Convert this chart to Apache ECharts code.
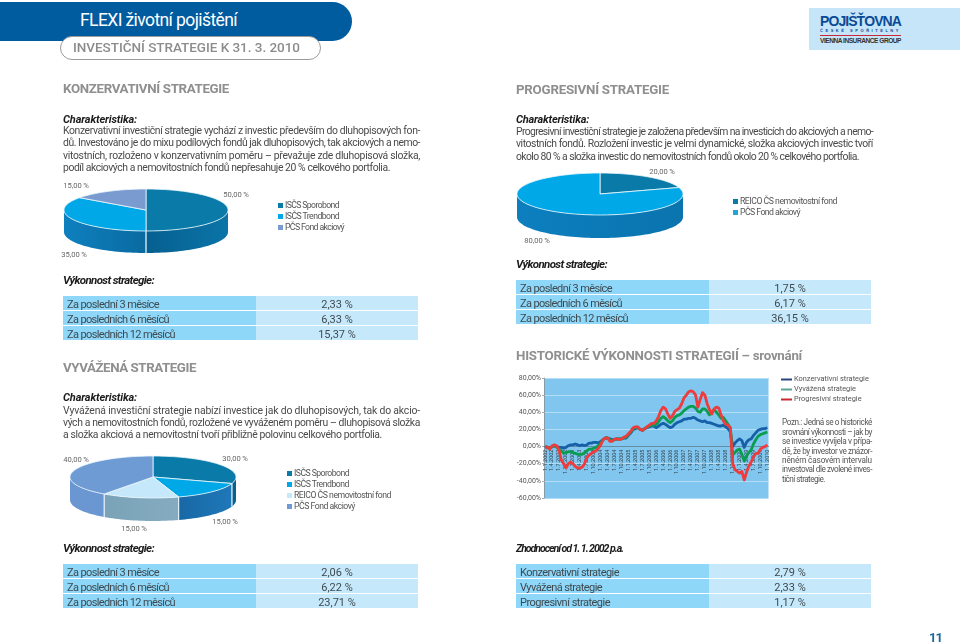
<!DOCTYPE html>
<html lang="cs"><head><meta charset="utf-8"><title>FLEXI životní pojištění</title>
<script src="https://cdn.jsdelivr.net/npm/echarts@6/dist/echarts.min.js"></script>
<style>
html,body{margin:0;padding:0;background:#fff}
#page{position:relative;width:960px;height:644px;overflow:hidden;font-family:Roboto,sans-serif;color:#454545}
#chart{position:absolute;left:0;top:0;width:960px;height:644px}
.t{position:absolute;white-space:nowrap;transform:translateY(-50%);line-height:1}
.b{position:absolute}
</style></head><body>
<div id="page"><div id="chart"></div></div>
<script>
// ---------- data ----------
const conservativeSlices = [50, 35, 15];
const conservativeNames = ['ISČS Sporobond', 'ISČS Trendbond', 'PČS Fond akciový'];
const progressiveSlices = [20, 80];
const progressiveNames = ['REICO ČS nemovitostní fond', 'PČS Fond akciový'];
const balancedSlices = [30, 15, 15, 40];
const balancedNames = ['ISČS Sporobond', 'ISČS Trendbond', 'REICO ČS nemovitostní fond', 'PČS Fond akciový'];

const histYears = [2002, 2003, 2004, 2005, 2006, 2007, 2008, 2009];
const histMonths = [1, 2, 3, 4, 5, 6, 7, 8, 9, 10, 11, 12];
const konzervativni = [
  0,-1,-2,0,1,0,-1,-1,-2,-1,1,2,
  2,3,2,1,2,1,2,4,4,5,5,4,
  6,8,10,10,9,8,8,9,9,9,10,10,
  13,16,20,21,22,20,19,21,22,23,24,24,
  22,24,26,27,26,24,22,23,26,28,29,30,
  32,32,33,33,34,33,31,30,29,30,28,28,
  27,26,25,24,24,25,23,21,17,0,4,7,
  9,7,-1,5,8,9,13,16,19,20,21,21,
  22];
const vyvazena = [
  0,-1,-2,0,1,-1,-3,-5,-8,-7,-6,-6,
  -7,-8,-9,-9,-9,-7,-5,-3,-3,-2,-1,1,
  4,8,10,10,8,7,8,9,9,9,10,11,
  14,17,21,22,23,20,19,21,23,24,25,25,
  26,29,33,35,33,30,28,30,34,36,37,39,
  42,44,46,47,47,45,41,40,44,44,41,37,
  40,43,40,37,33,34,30,26,22,-10,-7,-4,
  -3,-9,-17,-11,-7,-4,3,8,12,14,15,16,
  17];
const progresivni = [
  0,-1,-3,1,2,1,-4,-16,-20,-25,-20,-18,
  -20,-23,-25,-25,-24,-20,-13,-10,-8,-6,-5,-2,
  2,8,10,10,6,6,9,9,8,9,11,12,
  15,18,22,23,23,20,19,21,23,25,27,27,
  30,35,42,46,44,38,33,36,41,43,45,50,
  57,60,64,65,64,60,46,55,63,60,50,43,
  38,44,46,45,37,30,26,25,22,-19,-27,-29,
  -31,-29,-39,-30,-23,-18,-12,-8,-8,-3,-1,0,
  2];
const histCategories = [];
histYears.forEach(y => histMonths.forEach(m => histCategories.push('1.' + m + '.' + y)));
histCategories.push('1.1.2010');
const histNames = ['Konzervativní strategie', 'Vyvážená strategie', 'Progresivní strategie'];

const perfLabels = ['Za poslední 3 měsíce', 'Za posledních 6 měsíců', 'Za posledních 12 měsíců'];
const perfConservative = ['2,33 %', '6,33 %', '15,37 %'];
const perfProgressive = ['1,75 %', '6,17 %', '36,15 %'];
const perfBalanced = ['2,06 %', '6,22 %', '23,71 %'];
const perfSince2002 = ['2,79 %', '2,33 %', '1,17 %'];

// ---------- page text helpers ----------
const page = document.getElementById('page');
function T(text, x, y, w, css) {
  const d = document.createElement('div');
  d.className = 't'; d.textContent = text;
  d.style.cssText = 'left:' + x + 'px;top:' + y + 'px;' + (css || '');
  page.appendChild(d);
  if (w) {
    const n = d.getBoundingClientRect().width;
    const cur = parseFloat(getComputedStyle(d).letterSpacing) || 0;
    d.style.letterSpacing = (cur + (w - n) / text.length) + 'px';
  }
  return d;
}
function J(text, x, y, w, css) {   // justified prose line
  const d = T(text, x, y, 0, 'letter-spacing:-.12px;' + (css || ''));
  const n = d.getBoundingClientRect().width;
  if (n > w) d.style.letterSpacing = (-.12 + (w - n) / text.length) + 'px';
  else { d.style.width = w + 'px'; d.style.whiteSpace = 'normal'; d.style.textAlignLast = 'justify'; }
}
function B(x, y, w, h, css) {
  const d = document.createElement('div');
  d.className = 'b';
  d.style.cssText = 'left:' + x + 'px;top:' + y + 'px;width:' + w + 'px;height:' + h + 'px;' + (css || '');
  page.appendChild(d);
}
const HEAD = 'font-weight:700;font-size:13.3px;color:#8f8f8f;';
const SUB = 'font-weight:700;font-style:italic;font-size:11px;color:#1c1c1c;';
const PROSE = 'font-size:10.4px;color:#4a4a4a;';

// banner
B(0, 2, 352, 39, 'background:#005b9f;border-radius:0 20px 20px 0');
B(60, 36, 259, 22, 'background:#fff;border:1px solid #9a9a9a;border-radius:12px');
T('FLEXI životní pojištění', 80, 21, 157, 'font-size:17.5px;color:#fff');
T('INVESTIČNÍ STRATEGIE K 31. 3. 2010', 73, 48, 227, 'font-size:13.5px;font-weight:500;color:#8c8c8c');
// logo
B(809, 8, 151, 42, 'background:#c6e5f8');
T('POJIŠŤOVNA', 820, 21, 81, 'font-family:"Liberation Sans";font-weight:700;font-size:14px;color:#0b4a96');
T('ČESKÉ SPOŘITELNY', 820, 30.5, 81, 'font-family:"Liberation Sans";font-weight:700;font-size:4px;color:#0b4a96');
B(820, 34.5, 81, 1, 'background:#c8283a');
T('VIENNA INSURANCE GROUP', 820, 41, 81, 'font-family:"Liberation Sans";font-weight:700;font-size:6.6px;font-variant:small-caps;color:#333');

// left column
T('KONZERVATIVNÍ STRATEGIE', 63, 89, 166, HEAD);
T('Charakteristika:', 63, 118.5, 74, SUB);
[['Konzervativní investiční strategie vychází z investic především do dluhopisových fon-', 131],
 ['dů. Investováno je do mixu podílových fondů jak dluhopisových, tak akciových a nemo-', 143],
 ['vitostních, rozloženo v konzervativním poměru – převažuje zde dluhopisová složka,', 155.5]]
 .forEach(l => J(l[0], 63, l[1], 357, PROSE));
T('podíl akciových a nemovitostních fondů nepřesahuje 20 % celkového portfolia.', 63, 168, 327, PROSE);

T('VYVÁŽENÁ STRATEGIE', 63, 368, 133, HEAD);
T('Charakteristika:', 63, 397, 74, SUB);
[['Vyvážená investiční strategie nabízí investice jak do dluhopisových, tak do akcio-', 410.5],
 ['vých a nemovitostních fondů, rozložené ve vyváženém poměru – dluhopisová složka', 422.5]]
 .forEach(l => J(l[0], 63, l[1], 357, PROSE));
T('a složka akciová a nemovitostní tvoří přibližně polovinu celkového portfolia.', 63, 435, 319, PROSE);

// right column
T('PROGRESIVNÍ STRATEGIE', 516, 89.5, 153, HEAD);
T('Charakteristika:', 516, 119, 73, SUB);
[['Progresivní investiční strategie je založena především na investicích do akciových a nemo-', 132],
 ['vitostních fondů. Rozložení investic je velmi dynamické, složka akciových investic tvoří', 144]]
 .forEach(l => J(l[0], 516, l[1], 357, PROSE));
T('okolo 80 % a složka investic do nemovitostních fondů okolo 20 % celkového portfolia.', 516, 156.5, 343, PROSE);
T('HISTORICKÉ VÝKONNOSTI STRATEGIÍ – srovnání', 516, 356, 286, HEAD);

// note under chart legend
const NOTE = 'font-size:8.2px;color:#555;';
[['Pozn.: Jedná se o historické', 422], ['srovnání výkonnosti – jak by', 431.5], ['se investice vyvíjela v přípa-', 441],
 ['dě, že by investor ve znázor-', 450.5], ['něném časovém intervalu', 460], ['investoval dle zvolené inves-', 469]]
 .forEach(l => J(l[0], 782, l[1], 90, NOTE));
T('tiční strategie.', 782, 478.5, 43, NOTE);

// performance tables
function table(x, y, labels, values, widths, heading, headW, headY, headSize) {
  T(heading, x, headY, headW, SUB.replace('11px', (headSize || 11.5) + 'px'));
  labels.forEach((lab, i) => {
    const top = y + i * 15;
    B(x, top, 193, 14, 'background:#8ed7f8');
    B(x + 193, top, 162, 14, 'background:#c6e8fb');
    T(lab, x + 4, top + 7.5, widths[i], 'font-size:11px;color:#3f4a50');
    const v = T(values[i], x + 274, top + 7.5, 0, 'font-size:11px;color:#3f4a50');
    v.style.transform = 'translate(-50%,-50%)';
  });
}
const perfW = [92, 102, 108];
table(63, 296, perfLabels, perfConservative, perfW, 'Výkonnost strategie:', 91, 281);
table(516, 280, perfLabels, perfProgressive, perfW, 'Výkonnost strategie:', 91, 265);
table(63, 564, perfLabels, perfBalanced, perfW, 'Výkonnost strategie:', 91, 549);
table(516, 564, ['Konzervativní strategie', 'Vyvážená strategie', 'Progresivní strategie'], perfSince2002, [99, 82, 90], 'Zhodnocení od 1. 1. 2002 p.a.', 107, 549, 10.6);
T('11', 929, 637, 13, 'font-size:13px;font-weight:700;color:#1d6a9c');

// ---------- pies ----------
const DEEP = '#0a7ba8', CYAN = '#00a8e8', PERI = '#7a9bd0', PALE = '#c6e8fb', STEEL = '#6f9bd5';
const pies = [
  { values: conservativeSlices, names: conservativeNames, cx: 146, cy: 210, rx: 82, ry: 21, depth: 22,
    top: [DEEP, CYAN, PERI], side: [['#0b74a8', '#05608f'], ['#0a6aa0', '#0e80bf'], ['#6f9bd5', '#6f9bd5']],
    legendX: 278, legendY: [205, 216, 227], legendW: [54, 54, 59],
    labels: [[236, 195], [74, 255], [76, 186]] },
  { values: progressiveSlices, names: progressiveNames, cx: 600, cy: 194, rx: 83, ry: 21, depth: 23,
    top: [DEEP, CYAN], side: [['#0a6aa0', '#0a6aa0'], ['#0a74ae', '#0d7fbf']],
    legendX: 733, legendY: [201, 212], legendW: [97, 60], swatch: [DEEP, '#1ea5d9'],
    labels: [[662, 172], [537, 241]] },
  { values: balancedSlices, names: balancedNames, cx: 153, cy: 477, rx: 83, ry: 21, depth: 23,
    top: [DEEP, CYAN, PALE, STEEL], side: [['#06618f', '#06618f'], ['#1f78b8', '#1868a5'], ['#85abc0', '#7aa3b8'], ['#6a97d2', '#6a97d2']],
    legendX: 287, legendY: [473, 484, 495, 506], legendW: [55, 55, 97, 61],
    labels: [[235, 459], [225, 522], [134, 529], [76, 460]] }
];
const fmtPct = v => v.toFixed(2).replace('.', ',') + '\u2009%';
const pt = (p, a, dy) => [p.cx + p.rx * Math.sin(a), p.cy - p.ry * Math.cos(a) + (dy || 0)];
function arcPts(p, a0, a1, dy) {
  const n = Math.max(2, Math.ceil((a1 - a0) / 0.04)), out = [];
  for (let i = 0; i <= n; i++) out.push(pt(p, a0 + (a1 - a0) * i / n, dy));
  return out;
}
function renderSlice(p) {
  return function (params, api) {
    const total = p.values.reduce((s, v) => s + v, 0);
    const before = p.values.slice(0, params.dataIndex).reduce((s, v) => s + v, 0);
    const a0 = before / total * 2 * Math.PI, a1 = a0 + api.value(0) / total * 2 * Math.PI;
    const kids = [];
    const s0 = Math.max(a0, Math.PI / 2), s1 = Math.min(a1, 3 * Math.PI / 2);
    if (s1 > s0) {
      const c = p.side[params.dataIndex];
      const up = arcPts(p, s0, s1), down = arcPts(p, s0, s1, p.depth).reverse();
      kids.push({ type: 'polygon', z2: 1, shape: { points: up.concat(down) },
        style: { fill: new echarts.graphic.LinearGradient(0, 0, 1, 0, [{ offset: 0, color: c[1] }, { offset: 1, color: c[0] }]) } });
      [a0, a1].forEach(a => {
        if (a > Math.PI / 2 && a < 3 * Math.PI / 2) {
          const e = pt(p, a);
          kids.push({ type: 'line', z2: 3, shape: { x1: e[0], y1: e[1], x2: e[0], y2: e[1] + p.depth },
            style: { stroke: '#e8f5fc', lineWidth: 0.8 } });
        }
      });
    }
    kids.push({ type: 'polygon', z2: 2, shape: { points: [[p.cx, p.cy]].concat(arcPts(p, a0, a1)) },
      style: { fill: p.top[params.dataIndex], stroke: '#eef8fd', lineWidth: 0.8, lineJoin: 'round' } });
    return { type: 'group', children: kids };
  };
}
const pieSeries = pies.map(p => ({
  type: 'custom', coordinateSystem: 'none', silent: true, clip: false, z: 3,
  data: p.values.map((v, i) => ({ value: [v], name: p.names[i] })), renderItem: renderSlice(p)
}));
const pieLabels = [];
pies.forEach(p => {
  p.values.forEach((v, i) => pieLabels.push({ type: 'text', x: p.labels[i][0], y: p.labels[i][1],
    style: { text: fmtPct(v), font: '7.6px Roboto', fill: '#666', align: 'center', verticalAlign: 'middle' } }));
  p.names.forEach((n, i) => {
    B(p.legendX, p.legendY[i] - 2.5, 5, 5, 'background:' + (p.swatch ? p.swatch[i] : p.top[i]));
    T(n, p.legendX + 7, p.legendY[i], p.legendW[i], 'font-size:8.7px;color:#555');
  });
});

// ---------- options ----------
const lineColors = ['#1560a8', '#0a9d50', '#ee3b3d'];
const legendColors = ['#27457f', '#5aa59b', '#c72a33'];
const chart = echarts.init(document.getElementById('chart'));
chart.setOption({
  animation: false, backgroundColor: 'transparent',
  graphic: pieLabels,
  legend: {
    orient: 'vertical', left: 781, top: 375, itemWidth: 11, itemHeight: 2, itemGap: 1, icon: 'rect', padding: 0,
    textStyle: { fontFamily: 'Roboto', fontSize: 7.4, color: '#555', lineHeight: 9, padding: [0, 0, 0, -3] },
    data: histNames.map((n, i) => ({ name: n, itemStyle: { color: legendColors[i] } }))
  },
  grid: { left: 544, top: 378, width: 224.5, height: 120, show: true, backgroundColor: '#80c6ef', borderWidth: 0 },
  xAxis: {
    type: 'category', data: histCategories, boundaryGap: true, position: 'bottom', offset: -51.43,
    axisLine: { onZero: false, lineStyle: { color: '#456a80', width: 0.7 } }, axisTick: { show: false },
    axisLabel: { interval: 2, rotate: 90, fontSize: 5.5, fontFamily: 'Roboto', color: '#34454f', margin: 3, hideOverlap: false },
    splitLine: { show: false }
  },
  yAxis: {
    type: 'value', min: -60, max: 80, interval: 20,
    axisLine: { show: true, lineStyle: { color: '#8a8a8a', width: 0.7 } },
    axisTick: { show: true, length: 2, lineStyle: { color: '#8a8a8a', width: 0.7 } },
    axisLabel: { fontSize: 7, fontFamily: 'Roboto', color: '#555', margin: 3,
      formatter: v => v.toFixed(2).replace('.', ',') + '%' },
    splitLine: { show: true, lineStyle: { color: '#b4def6', width: 1 } }
  },
  series: [konzervativni, vyvazena, progresivni].map((d, i) => ({
    name: histNames[i], type: 'line', data: d, showSymbol: false, symbol: 'none', smooth: false, z: 2 + i,
    lineStyle: { color: lineColors[i], width: 2.8, join: 'round' }, itemStyle: { color: lineColors[i] }
  })).concat(pieSeries)
});
</script>
</body></html>
